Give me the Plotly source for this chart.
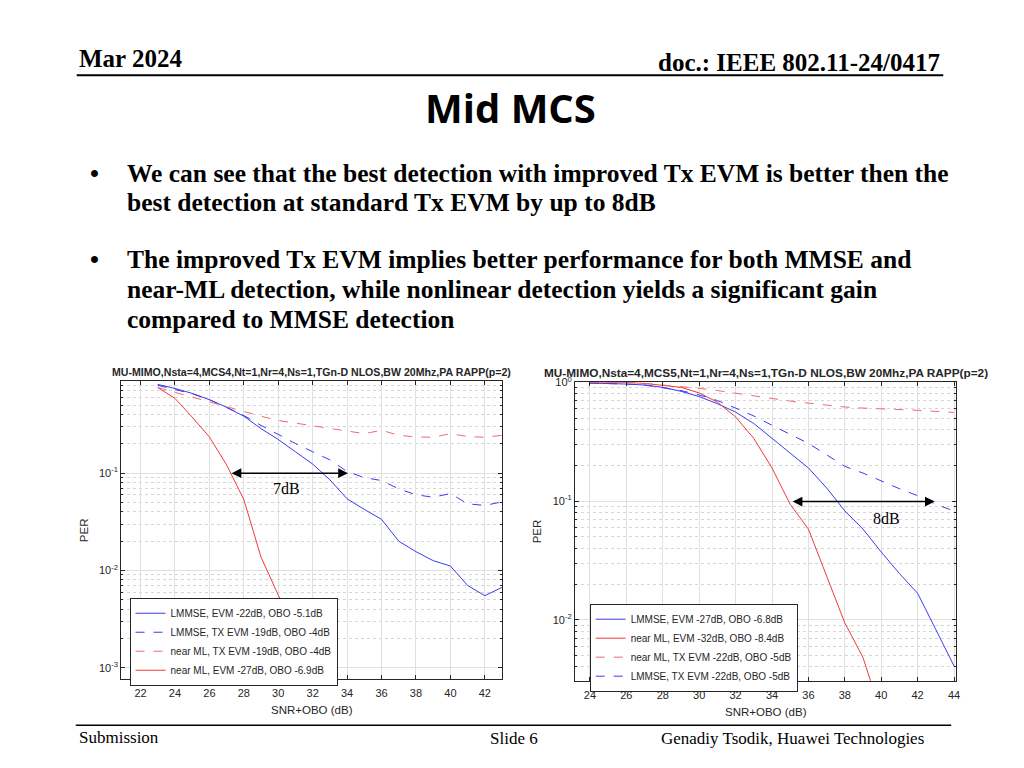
import math
import plotly.graph_objects as go

# ---------------- data ----------------
snr_left = [23, 24, 25, 26, 27, 28, 29, 30, 31, 32, 33, 34, 35, 36, 37, 38, 39, 40, 41, 42, 43]
left_lmmse_evm22 = [0.817, 0.743, 0.661, 0.570, 0.476, 0.385, 0.287, 0.222, 0.166, 0.124, 0.0855,
                    0.0545, 0.0424, 0.0335, 0.020, 0.0156, 0.0126, 0.0111, 0.0070, 0.0055, 0.0067]
left_lmmse_tx19 = [0.80, 0.73, 0.656, 0.57, 0.476, 0.392, 0.31, 0.249, 0.202, 0.166, 0.137,
                   0.104, 0.090, 0.084, 0.069, 0.060, 0.0566, 0.0617, 0.0484, 0.0466, 0.0507]
left_nml_tx19 = [0.76, 0.678, 0.603, 0.536, 0.484, 0.431, 0.385, 0.348, 0.327, 0.305, 0.287,
                 0.272, 0.255, 0.276, 0.245, 0.236, 0.234, 0.255, 0.238, 0.234, 0.245]
snr_left_nml27 = [23, 24, 25, 26, 27, 28, 29, 30, 31, 32, 33]
left_nml_evm27 = [0.76, 0.587, 0.377, 0.236, 0.1216, 0.0536, 0.0137, 0.00557, 0.00229, 0.00089, 0.0003]

snr_right = [24, 25, 26, 27, 28, 29, 30, 31, 32, 33, 34, 35, 36, 37, 38, 39, 40, 41, 42, 43, 44]
right_lmmse_evm27 = [0.986, 0.98, 0.968, 0.95, 0.908, 0.841, 0.759, 0.661, 0.562, 0.45, 0.337,
                     0.253, 0.19, 0.129, 0.0826, 0.058, 0.0372, 0.0245, 0.0167, 0.00826, 0.00408]
snr_right_nml32 = [24, 25, 26, 27, 28, 29, 30, 31, 32, 33, 34, 35, 36, 37, 38, 39, 40]
right_nml_evm32 = [0.99, 0.995, 1.0, 0.98, 0.95, 0.908, 0.815, 0.681, 0.511, 0.337, 0.19,
                   0.0938, 0.058, 0.023, 0.0094, 0.0048, 0.0016]
right_nml_tx22 = [0.99, 1.0, 1.0, 0.98, 0.95, 0.927, 0.891, 0.853, 0.809, 0.764, 0.726,
                  0.695, 0.668, 0.64, 0.62, 0.607, 0.6, 0.592, 0.581, 0.57, 0.558]
right_lmmse_tx22 = [0.986, 0.98, 0.968, 0.95, 0.897, 0.853, 0.783, 0.703, 0.607, 0.521, 0.435,
                    0.364, 0.306, 0.245, 0.196, 0.172, 0.147, 0.127, 0.111, 0.0938, 0.0826]

left_xticks = [22, 24, 26, 28, 30, 32, 34, 36, 38, 40, 42]
right_xticks = [24, 26, 28, 30, 32, 34, 36, 38, 40, 42, 44]
left_yticks = [0.001, 0.01, 0.1]
left_yticktext = ["10<sup>-3</sup>", "10<sup>-2</sup>", "10<sup>-1</sup>"]
right_yticks = [0.01, 0.1, 1]
right_yticktext = ["10<sup>-2</sup>", "10<sup>-1</sup>", "10<sup>0</sup>"]
minor_y = [m * d for d in [0.001, 0.01, 0.1] for m in range(2, 10)]

left_arrow = dict(x0=27.2, x1=34.05, y=0.1)
right_arrow = dict(x0=35.05, x1=42.94, y=0.099)
left_gap_label = dict(x=30.5, y=0.069, text="7dB")
right_gap_label = dict(x=40.3, y=0.071, text="8dB")

title_left = "MU-MIMO,Nsta=4,MCS4,Nt=1,Nr=4,Ns=1,TGn-D NLOS,BW 20Mhz,PA RAPP(p=2)"
title_right = "MU-MIMO,Nsta=4,MCS5,Nt=1,Nr=4,Ns=1,TGn-D NLOS,BW 20Mhz,PA RAPP(p=2)"

BLUE = "#3b3bf0"
RED = "#ee3a3a"
RED_D = "#f06a6a"
AX = "#262626"
SANS = "Liberation Sans"
SERIF = "Liberation Serif"

# page has an 8px body margin: the figure is sized to fit the 1024x768 window
OFF = 8
W, H = 1024 - 2 * OFF, 768 - 2 * OFF


def px(x):
    return (x - OFF) / W


def py(y):
    return 1 - (y - OFF) / H


fig = go.Figure()

# left traces
fig.add_trace(go.Scatter(x=snr_left, y=left_lmmse_evm22, mode="lines", name="LMMSE, EVM -22dB, OBO -5.1dB",
                         line=dict(color=BLUE, width=1), xaxis="x", yaxis="y", legend="legend"))
fig.add_trace(go.Scatter(x=snr_left, y=left_lmmse_tx19, mode="lines", name="LMMSE, TX EVM -19dB, OBO -4dB",
                         line=dict(color=BLUE, width=1, dash="dash"), xaxis="x", yaxis="y", legend="legend"))
fig.add_trace(go.Scatter(x=snr_left, y=left_nml_tx19, mode="lines", name="near ML, TX EVM -19dB, OBO -4dB",
                         line=dict(color=RED_D, width=1, dash="dash"), xaxis="x", yaxis="y", legend="legend"))
fig.add_trace(go.Scatter(x=snr_left_nml27, y=left_nml_evm27, mode="lines", name="near ML, EVM -27dB, OBO -6.9dB",
                         line=dict(color=RED, width=1), xaxis="x", yaxis="y", legend="legend"))

# right traces
fig.add_trace(go.Scatter(x=snr_right, y=right_lmmse_evm27, mode="lines", name="LMMSE, EVM -27dB, OBO -6.8dB",
                         line=dict(color=BLUE, width=1), xaxis="x2", yaxis="y2", legend="legend2"))
fig.add_trace(go.Scatter(x=snr_right_nml32, y=right_nml_evm32, mode="lines", name="near ML, EVM -32dB, OBO -8.4dB",
                         line=dict(color=RED, width=1), xaxis="x2", yaxis="y2", legend="legend2"))
fig.add_trace(go.Scatter(x=snr_right, y=right_nml_tx22, mode="lines", name="near ML, TX EVM -22dB, OBO -5dB",
                         line=dict(color=RED_D, width=1, dash="dash"), xaxis="x2", yaxis="y2", legend="legend2"))
fig.add_trace(go.Scatter(x=snr_right, y=right_lmmse_tx22, mode="lines", name="LMMSE, TX EVM -22dB, OBO -5dB",
                         line=dict(color=BLUE, width=1, dash="dash"), xaxis="x2", yaxis="y2", legend="legend2"))

tickfont = dict(family=SANS, size=11, color=AX)


def xaxis(domain, rng, ticks, anchor):
    return dict(domain=domain, range=rng, tickvals=ticks, ticks="inside", ticklen=4, tickcolor=AX,
                showline=True, linecolor=AX, linewidth=1, mirror="ticks", showgrid=True,
                gridcolor="#e0e0e0", gridwidth=1, zeroline=False, tickfont=tickfont, anchor=anchor,
                ticklabelstandoff=4)


def yaxis(domain, rng, ticks, text, anchor):
    return dict(domain=domain, type="log", range=rng, tickvals=ticks, ticktext=text, ticks="inside",
                ticklen=4, tickcolor=AX, showline=True, linecolor=AX, linewidth=1, mirror="ticks",
                showgrid=True, gridcolor="#e0e0e0", gridwidth=1, zeroline=False, tickfont=tickfont,
                anchor=anchor,
                minor=dict(tickmode="array", tickvals=minor_y, ticks="inside", ticklen=2, tickcolor=AX,
                           showgrid=True, gridcolor="#d6d6d6", griddash="dot", gridwidth=1))


legend_common = dict(font=dict(family=SANS, size=10, color=AX), bgcolor="white", bordercolor=AX,
                     borderwidth=1, xanchor="left", yanchor="top", tracegroupgap=0, itemwidth=30)

fig.update_layout(
    width=W, height=H, margin=dict(l=0, r=0, t=0, b=0),
    paper_bgcolor="white", plot_bgcolor="white", showlegend=True,
    xaxis=xaxis([px(121.7), px(504)], [20.88, 43.0], left_xticks, "y"),
    yaxis=yaxis([py(678), py(376.7)], [-3.115, -0.05], left_yticks, left_yticktext, "x"),
    xaxis2=xaxis([px(577.3), px(960)], [23.18, 44.12], right_xticks, "y2"),
    yaxis2=yaxis([py(680), py(378.3)], [-2.515, 0.0], right_yticks, right_yticktext, "x2"),
    legend=dict(x=px(130), y=py(596), **legend_common),
    legend2=dict(x=px(592), y=py(602), **legend_common),
)

ann = []


def text(x, y, s, size, family=SERIF, bold=False, xanchor="left", color="black", angle=0):
    ann.append(dict(x=px(x), y=py(y), xref="paper", yref="paper", text=(f"<b>{s}</b>" if bold else s),
                    showarrow=False, xanchor=xanchor, yanchor="middle", textangle=angle,
                    font=dict(family=family, size=size, color=color)))


# header / footer
text(77, 51, "Mar 2024", 25, bold=True)
text(946, 55, "doc.: IEEE 802.11-24/0417", 25, bold=True, xanchor="right")
text(512, 100, "Mid MCS", 40, family="Open Sans", bold=True, xanchor="center")
text(77, 737, "Submission", 17)
text(516, 738, "Slide 6", 17, xanchor="center")
text(930, 738, "Genadiy Tsodik, Huawei Technologies", 17, xanchor="right")

# bullets
text(88, 167, "•", 25.5, bold=True)
text(88, 254, "•", 25.5, bold=True)
bullet_lines = [
    (167, "We can see that the best detection with improved Tx EVM is better then the"),
    (197, "best detection at standard Tx EVM by up to 8dB"),
    (254, "The improved Tx EVM implies better performance for both MMSE and"),
    (284, "near-ML detection, while nonlinear detection yields a significant gain"),
    (315, "compared to MMSE detection"),
]
for yy, s in bullet_lines:
    text(125, yy, s, 25.5, bold=True)

# chart titles & axis labels
text(313, 368, title_left, 10.6, family=SANS, bold=True, xanchor="center", color=AX)
text(769, 369, title_right, 11.8, family=SANS, bold=True, xanchor="center", color=AX)
text(313, 709, "SNR+OBO (dB)", 11.5, family=SANS, xanchor="center", color=AX)
text(769, 711, "SNR+OBO (dB)", 11.5, family=SANS, xanchor="center", color=AX)
text(85, 528, "PER", 11.5, family=SANS, xanchor="center", color=AX, angle=-90)
text(540, 529, "PER", 11.5, family=SANS, xanchor="center", color=AX, angle=-90)

# arrows and gap labels (data coordinates; log axes take log10 values in annotations)
for arr, xr, yr in [(left_arrow, "x", "y"), (right_arrow, "x2", "y2")]:
    ly = math.log10(arr["y"])
    ann.append(dict(x=arr["x1"], y=ly, ax=arr["x0"], ay=ly, xref=xr, yref=yr, axref=xr, ayref=yr,
                    text="", showarrow=True, arrowhead=2, arrowside="end+start", arrowsize=1.3,
                    arrowwidth=1.5, arrowcolor="black"))
for lab, xr, yr in [(left_gap_label, "x", "y"), (right_gap_label, "x2", "y2")]:
    ann.append(dict(x=lab["x"], y=math.log10(lab["y"]), xref=xr, yref=yr, text=lab["text"],
                    showarrow=False, font=dict(family=SERIF, size=16, color="black")))

shapes = [
    dict(type="line", xref="paper", yref="paper", x0=px(77), x1=px(947), y0=py(68), y1=py(68),
         line=dict(color="black", width=2)),
    dict(type="line", xref="paper", yref="paper", x0=px(76), x1=px(955), y0=py(725), y1=py(725),
         line=dict(color="black", width=1.5)),
]
fig.update_layout(annotations=ann, shapes=shapes)

fig.write_html("out.html")
